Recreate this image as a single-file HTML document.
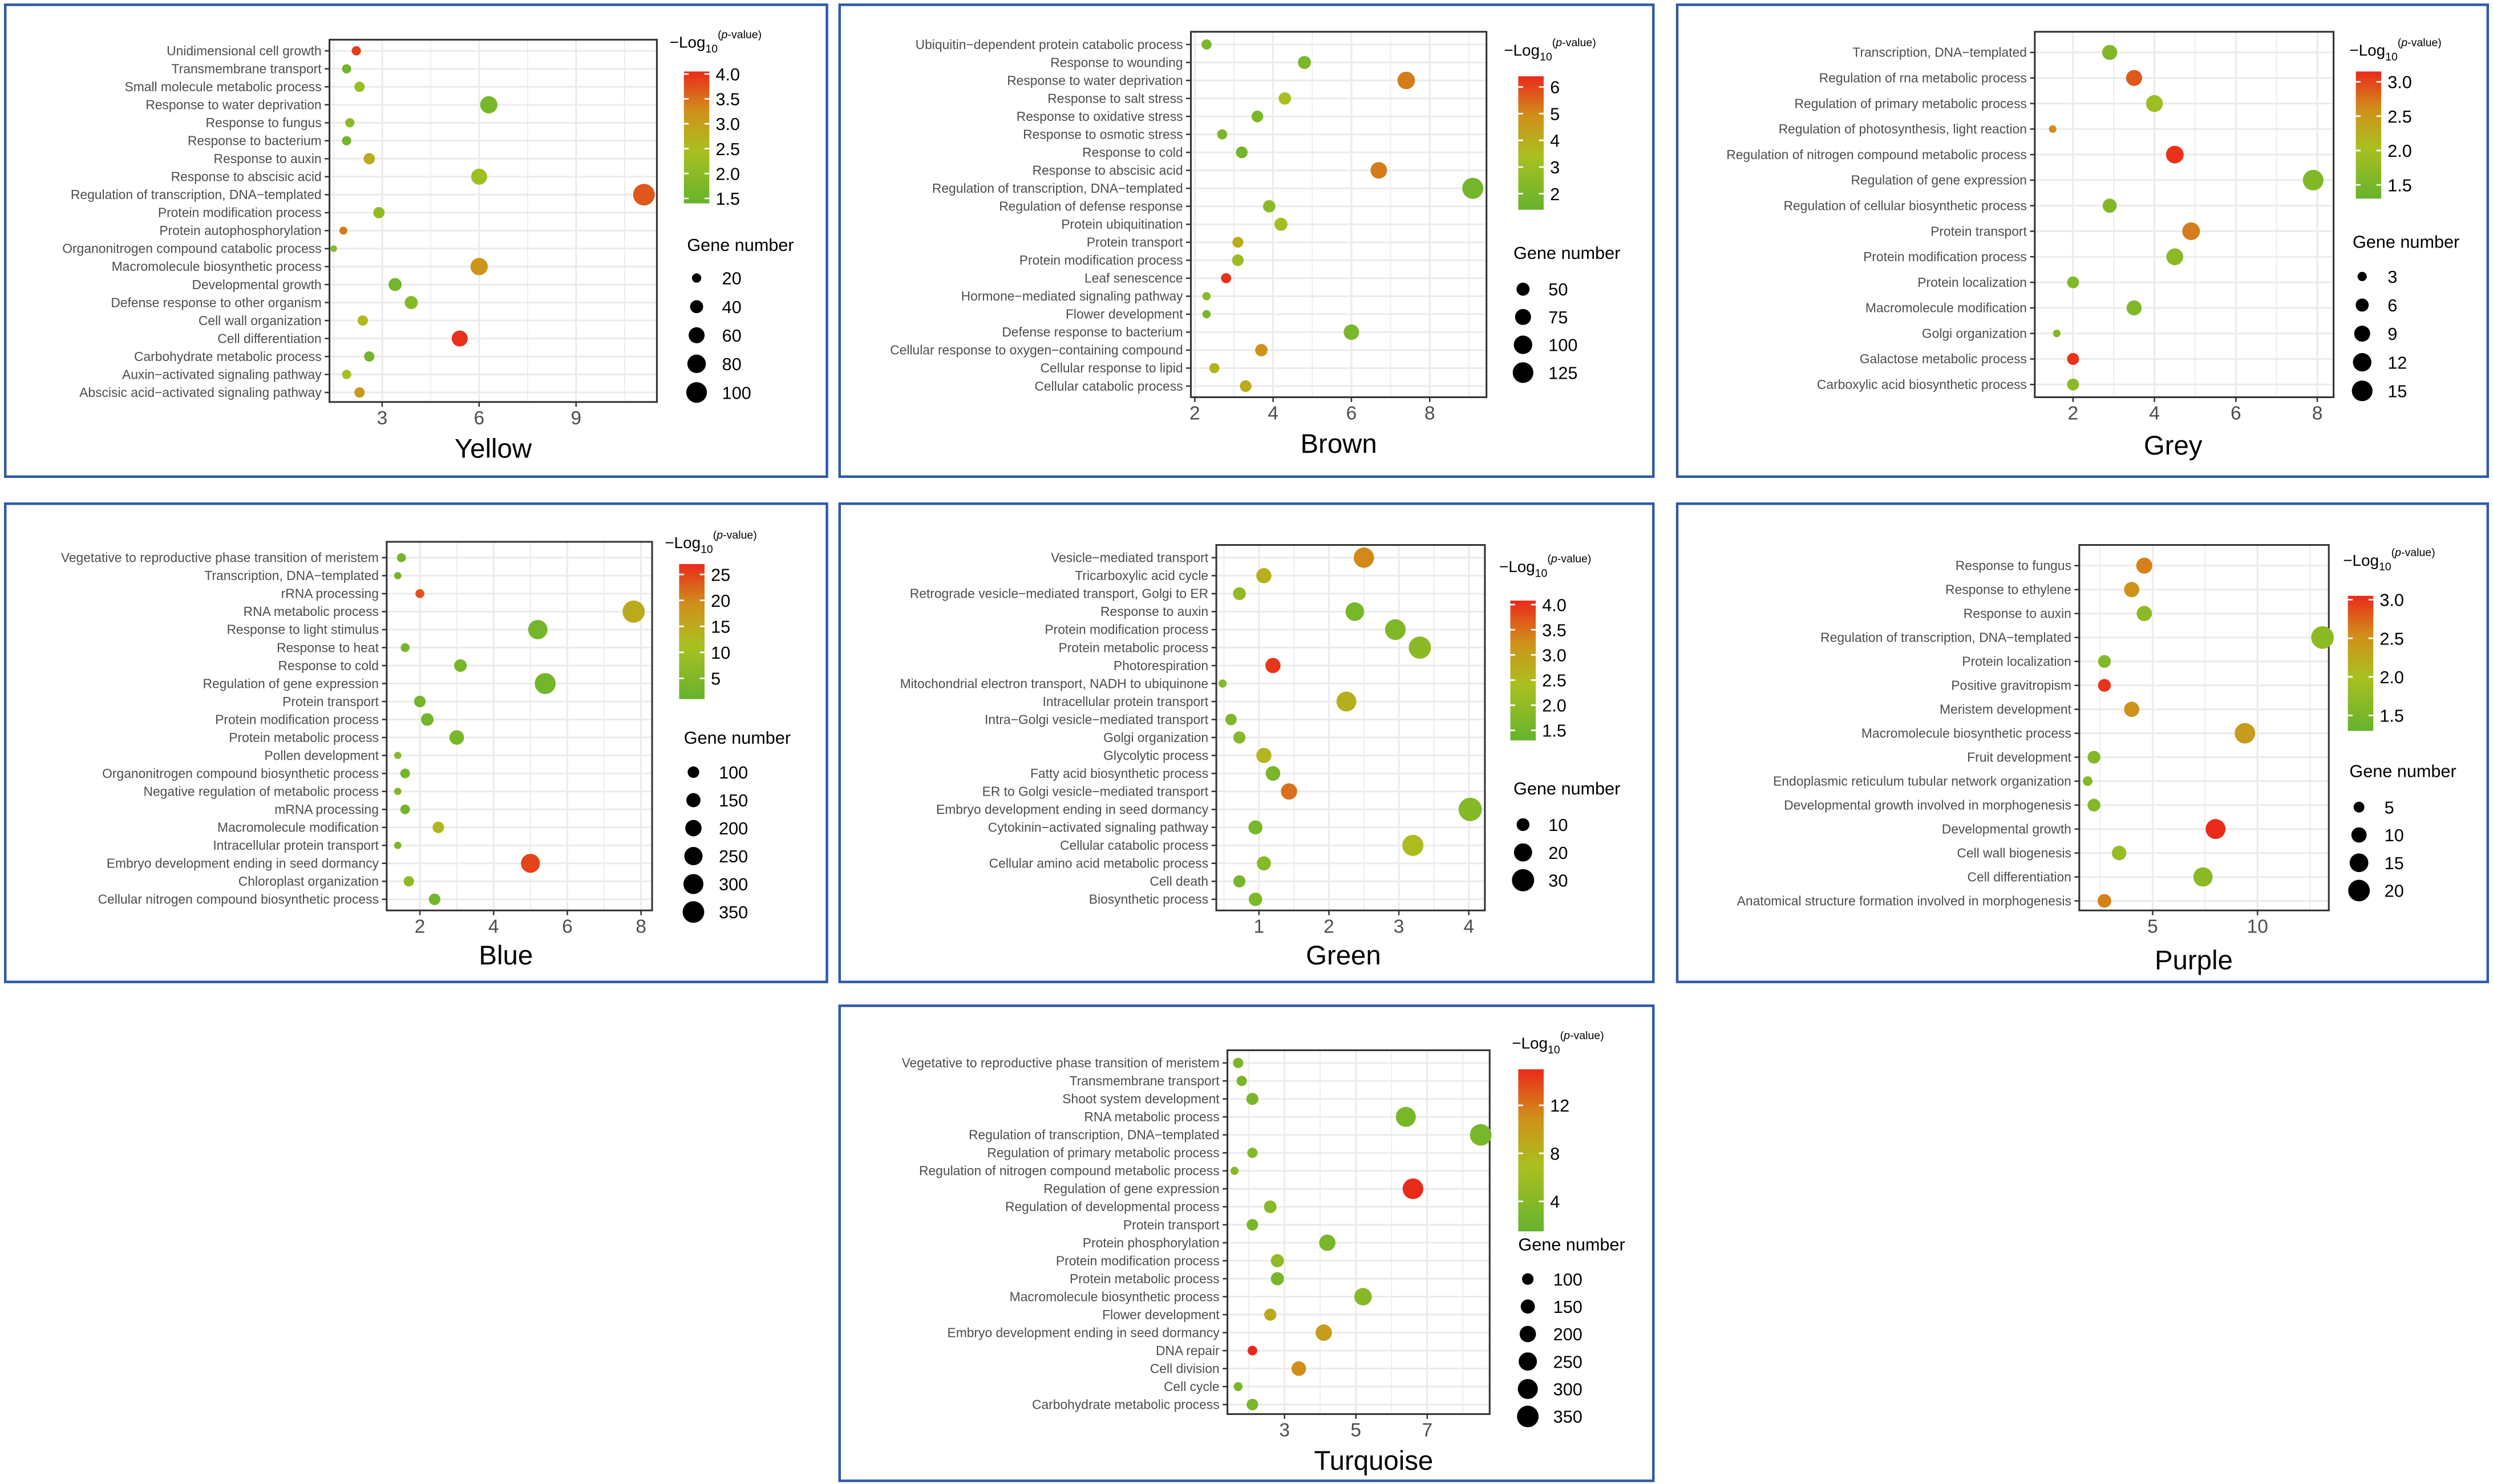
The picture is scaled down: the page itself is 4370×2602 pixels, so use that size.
<!DOCTYPE html>
<html><head><meta charset="utf-8"><style>
html,body{margin:0;padding:0;background:#fff;}
svg{display:block;}
text{font-family:"Liberation Sans Narrow","Liberation Sans",sans-serif;}
</style></head><body>
<svg id="fig" width="4370" height="2602" viewBox="0 0 1568 934" xmlns="http://www.w3.org/2000/svg">
<defs>
<linearGradient id="cgrad" x1="0" y1="1" x2="0" y2="0">
<stop offset="0" stop-color="#66b32e"/><stop offset="0.4" stop-color="#a9c01f"/><stop offset="0.7" stop-color="#d0901a"/><stop offset="1" stop-color="#ea2a1a"/>
</linearGradient>
</defs>
</svg>
<script>
// ---- Yellow ----
const yellowTerms=["Unidimensional cell growth","Transmembrane transport","Small molecule metabolic process","Response to water deprivation","Response to fungus","Response to bacterium","Response to auxin","Response to abscisic acid","Regulation of transcription, DNA\u2212templated","Protein modification process","Protein autophosphorylation","Organonitrogen compound catabolic process","Macromolecule biosynthetic process","Developmental growth","Defense response to other organism","Cell wall organization","Cell differentiation","Carbohydrate metabolic process","Auxin\u2212activated signaling pathway","Abscisic acid\u2212activated signaling pathway"];
const yellowX=[2.2,1.9,2.3,6.3,2.0,1.9,2.6,6.0,11.1,2.9,1.8,1.5,6.0,3.4,3.9,2.4,5.4,2.6,1.9,2.3];
const yellowP=[3.9,1.6,2.2,1.7,2.0,1.6,2.8,2.3,3.7,2.1,3.4,1.8,3.2,1.6,1.9,2.6,4.0,1.6,2.4,3.1];
const yellowN=[20,20,25,70,20,20,30,60,110,30,15,10,70,40,40,25,60,25,20,25];
const yellowTicks=[3,6,9];
const yellowCTicks=[4.0,3.5,3.0,2.5,2.0,1.5];
const yellowSizeTicks=[20,40,60,80,100];
// ---- Brown ----
const brownTerms=["Ubiquitin\u2212dependent protein catabolic process","Response to wounding","Response to water deprivation","Response to salt stress","Response to oxidative stress","Response to osmotic stress","Response to cold","Response to abscisic acid","Regulation of transcription, DNA\u2212templated","Regulation of defense response","Protein ubiquitination","Protein transport","Protein modification process","Leaf senescence","Hormone\u2212mediated signaling pathway","Flower development","Defense response to bacterium","Cellular response to oxygen\u2212containing compound","Cellular response to lipid","Cellular catabolic process"];
const brownX=[2.3,4.8,7.4,4.3,3.6,2.7,3.2,6.7,9.1,3.9,4.2,3.1,3.1,2.8,2.3,2.3,6.0,3.7,2.5,3.3];
const brownP=[2.0,2.0,5.2,3.5,2.0,2.0,1.8,5.2,1.8,2.5,3.2,4.0,3.0,6.3,2.5,2.0,2.0,4.8,3.8,4.0];
const brownN=[30,50,90,45,40,30,40,80,130,45,50,35,40,30,20,20,70,45,30,40];
const brownTicks=[2,4,6,8];
const brownCTicks=[6,5,4,3,2];
const brownSizeTicks=[50,75,100,125];
// ---- Grey ----
const greyTerms=["Transcription, DNA\u2212templated","Regulation of rna metabolic process","Regulation of primary metabolic process","Regulation of photosynthesis, light reaction","Regulation of nitrogen compound metabolic process","Regulation of gene expression","Regulation of cellular biosynthetic process","Protein transport","Protein modification process","Protein localization","Macromolecule modification","Golgi organization","Galactose metabolic process","Carboxylic acid biosynthetic process"];
const greyX=[2.9,3.5,4.0,1.5,4.5,7.9,2.9,4.9,4.5,2.0,3.5,1.6,2.0,2.0];
const greyP=[1.6,2.9,1.9,2.6,3.1,1.6,1.6,2.7,1.7,1.6,1.6,1.6,3.1,1.7];
const greyN=[8,9,10,2,11,15,7,11,10,5,8,2,5,5];
const greyTicks=[2,4,6,8];
const greyCTicks=[3.0,2.5,2.0,1.5];
const greySizeTicks=[3,6,9,12,15];
// ---- Blue ----
const blueTerms=["Vegetative to reproductive phase transition of meristem","Transcription, DNA\u2212templated","rRNA processing","RNA metabolic process","Response to light stimulus","Response to heat","Response to cold","Regulation of gene expression","Protein transport","Protein modification process","Protein metabolic process","Pollen development","Organonitrogen compound biosynthetic process","Negative regulation of metabolic process","mRNA processing","Macromolecule modification","Intracellular protein transport","Embryo development ending in seed dormancy","Chloroplast organization","Cellular nitrogen compound biosynthetic process"];
const blueX=[1.5,1.4,2.0,7.8,5.2,1.6,3.1,5.4,2.0,2.2,3.0,1.4,1.6,1.4,1.6,2.5,1.4,5.0,1.7,2.4];
const blueP=[3,3,24,15,3,3,4,3,3,3,4,6,3,5,3,13,4,25,7,3];
const blueN=[60,40,60,370,280,60,120,330,100,120,160,40,70,40,70,100,40,270,80,100];
const blueTicks=[2,4,6,8];
const blueCTicks=[25,20,15,10,5];
const blueSizeTicks=[100,150,200,250,300,350];
// ---- Green ----
const greenTerms=["Vesicle\u2212mediated transport","Tricarboxylic acid cycle","Retrograde vesicle\u2212mediated transport, Golgi to ER","Response to auxin","Protein modification process","Protein metabolic process","Photorespiration","Mitochondrial electron transport, NADH to ubiquinone","Intracellular protein transport","Intra\u2212Golgi vesicle\u2212mediated transport","Golgi organization","Glycolytic process","Fatty acid biosynthetic process","ER to Golgi vesicle\u2212mediated transport","Embryo development ending in seed dormancy","Cytokinin\u2212activated signaling pathway","Cellular catabolic process","Cellular amino acid metabolic process","Cell death","Biosynthetic process"];
const greenX=[2.5,1.07,0.72,2.37,2.95,3.3,1.2,0.48,2.25,0.6,0.72,1.07,1.2,1.43,4.02,0.95,3.2,1.07,0.72,0.95];
const greenP=[3.3,2.7,2.0,1.6,1.7,1.9,4.0,1.8,2.7,1.7,1.8,2.6,1.6,3.5,1.8,1.6,2.5,1.8,1.6,1.7];
const greenN=[25,14,10,21,26,30,14,4,24,8,9,14,13,16,33,12,27,12,9,11];
const greenTicks=[1,2,3,4];
const greenCTicks=[4.0,3.5,3.0,2.5,2.0,1.5];
const greenSizeTicks=[10,20,30];
// ---- Purple ----
const purpleTerms=["Response to fungus","Response to ethylene","Response to auxin","Regulation of transcription, DNA\u2212templated","Protein localization","Positive gravitropism","Meristem development","Macromolecule biosynthetic process","Fruit development","Endoplasmic reticulum tubular network organization","Developmental growth involved in morphogenesis","Developmental growth","Cell wall biogenesis","Cell differentiation","Anatomical structure formation involved in morphogenesis"];
const purpleX=[4.6,4.0,4.6,13.1,2.7,2.7,4.0,9.4,2.2,1.9,2.2,8.0,3.4,7.4,2.7];
const purpleP=[2.6,2.5,1.7,1.7,1.6,3.0,2.5,2.4,1.6,1.6,1.6,3.1,1.8,1.7,2.6];
const purpleN=[11,10,10,22,7,7,10,18,7,4,7,17,9,16,8];
const purpleTicks=[5,10];
const purpleCTicks=[3.0,2.5,2.0,1.5];
const purpleSizeTicks=[5,10,15,20];
// ---- Turquoise ----
const turqTerms=["Vegetative to reproductive phase transition of meristem","Transmembrane transport","Shoot system development","RNA metabolic process","Regulation of transcription, DNA\u2212templated","Regulation of primary metabolic process","Regulation of nitrogen compound metabolic process","Regulation of gene expression","Regulation of developmental process","Protein transport","Protein phosphorylation","Protein modification process","Protein metabolic process","Macromolecule biosynthetic process","Flower development","Embryo development ending in seed dormancy","DNA repair","Cell division","Cell cycle","Carbohydrate metabolic process"];
const turqX=[1.7,1.8,2.1,6.4,8.5,2.1,1.6,6.6,2.6,2.1,4.2,2.8,2.8,5.2,2.6,4.1,2.1,3.4,1.7,2.1];
const turqP=[3,3,3,3,3,4,4,15,4,3,3,5,3,4,9,10,15,11,3,3];
const turqN=[80,80,110,300,350,80,50,320,120,100,200,130,130,230,110,200,70,160,60,100];
const turqTicks=[3,5,7];
const turqCTicks=[12,8,4];
const turqSizeTicks=[100,150,200,250,300,350];

const panels=[
 {name:"Yellow",terms:yellowTerms,x:yellowX,p:yellowP,n:yellowN,ticks:yellowTicks,cticks:yellowCTicks,sticks:yellowSizeTicks,
  box:[3,3,517,297],plot:[207,25,413,253],xd:[1.37,11.5],rows:[32,247],cd:[1.4,4.05],cbar:[430,45,128],lt:[421,30],gn:[432,158],sy0:175,sdy:18,rmax:6.5,title:[310,288]},
 {name:"Brown",terms:brownTerms,x:brownX,p:brownP,n:brownN,ticks:brownTicks,cticks:brownCTicks,sticks:brownSizeTicks,
  box:[528,3,512,297],plot:[749,20,935,250],xd:[1.9,9.45],rows:[28,243],cd:[1.4,6.4],cbar:[955,48,132],lt:[946,35],gn:[952,163],sy0:182,sdy:17.5,rmax:6.5,title:[842,285]},
 {name:"Grey",terms:greyTerms,x:greyX,p:greyP,n:greyN,ticks:greyTicks,cticks:greyCTicks,sticks:greySizeTicks,
  box:[1055,3,510,297],plot:[1280,20,1468,250],xd:[1.06,8.4],rows:[33,242],cd:[1.3,3.15],cbar:[1482,45,125],lt:[1478,35],gn:[1480,156],sy0:174,sdy:18,rmax:6.5,title:[1367,286]},
 {name:"Blue",terms:blueTerms,x:blueX,p:blueP,n:blueN,ticks:blueTicks,cticks:blueCTicks,sticks:blueSizeTicks,
  box:[3,317,517,301],plot:[243,341,410,573],xd:[1.1,8.3],rows:[351,566],cd:[1,27],cbar:[427,355,440],lt:[418,345],gn:[430,468],sy0:486,sdy:17.6,rmax:6.8,title:[318,607]},
 {name:"Green",terms:greenTerms,x:greenX,p:greenP,n:greenN,ticks:greenTicks,cticks:greenCTicks,sticks:greenSizeTicks,
  box:[528,317,512,301],plot:[765,343,934,573],xd:[0.39,4.23],rows:[351,566],cd:[1.3,4.08],cbar:[950,378,466],lt:[943,360],gn:[952,500],sy0:519,sdy:17.5,rmax:7,title:[845,607]},
 {name:"Purple",terms:purpleTerms,x:purpleX,p:purpleP,n:purpleN,ticks:purpleTicks,cticks:purpleCTicks,sticks:purpleSizeTicks,
  box:[1055,317,510,301],plot:[1308,343,1465,573],xd:[1.5,13.4],rows:[356,567],cd:[1.3,3.05],cbar:[1477,375,460],lt:[1474,356],gn:[1478,489],sy0:508,sdy:17.5,rmax:6.8,title:[1380,610]},
 {name:"Turquoise",terms:turqTerms,x:turqX,p:turqP,n:turqN,ticks:turqTicks,cticks:turqCTicks,sticks:turqSizeTicks,
  box:[528,633,512,299],plot:[772,661,937,890],xd:[1.4,8.75],rows:[669,884],cd:[1.5,15],cbar:[955,673,775],lt:[951,660],gn:[955,787],sy0:805,sdy:17.3,rmax:6.8,title:[864,925]}
];
const NS="http://www.w3.org/2000/svg";
const svg=document.getElementById('fig');
function mk(tag,attrs,parent,txt){const e=document.createElementNS(NS,tag);for(const k in attrs)e.setAttribute(k,attrs[k]);if(txt!==undefined)e.textContent=txt;parent.appendChild(e);return e;}
const stops=[[0,[102,179,46]],[0.4,[169,192,31]],[0.7,[208,144,26]],[1,[234,42,26]]];
function colorAt(t){t=Math.max(0,Math.min(1,t));for(let i=1;i<stops.length;i++){if(t<=stops[i][0]){const a=stops[i-1],b=stops[i];const f=(t-a[0])/(b[0]-a[0]);const c=a[1].map((v,j)=>Math.round(v+(b[1][j]-v)*f));return `rgb(${c[0]},${c[1]},${c[2]})`;}}return 'rgb(234,42,26)';}
panels.forEach(P=>{
 const key=P.name.toLowerCase();
 const g=mk('g',{},svg);
 
 
 const bx=mk('rect',{x:P.box[0],y:P.box[1],width:P.box[2],height:P.box[3],fill:'#fff',stroke:'#2f5aa8','stroke-width':1.6},g);
 
 
 const [x0,y0,x1,y1]=P.plot;
 const sx=v=>x0+(v-P.xd[0])/(P.xd[1]-P.xd[0])*(x1-x0);
 const nr=P.terms.length;
 const sy=i=>P.rows[0]+i*(P.rows[1]-P.rows[0])/(nr-1);
 const cs=v=>colorAt((v-P.cd[0])/(P.cd[1]-P.cd[0]));
 const nmax=P.sticks[P.sticks.length-1];
 const rs=v=>P.rmax*Math.sqrt(v/nmax);
 const step=P.ticks.length>1?P.ticks[1]-P.ticks[0]:1;
 for(let v=P.ticks[0]-step*3;v<=P.xd[1]+step;v+=step/2){if(v<P.xd[0]||v>P.xd[1])continue;const X=sx(v);const major=Math.abs((v-P.ticks[0])/step-Math.round((v-P.ticks[0])/step))<1e-6;
  const l=mk('line',{x1:X,x2:X,y1:y0,y2:y1,stroke:'#ebebeb','stroke-width':major?1.1:0.6},g);
  
  }
 P.terms.forEach((t,i)=>{const Y=sy(i);
  const l=mk('line',{x1:x0,x2:x1,y1:Y,y2:Y,stroke:'#ebebeb','stroke-width':1.1},g);
  
  
  const tk=mk('line',{x1:x0-3,x2:x0,y1:Y,y2:Y,stroke:'#333','stroke-width':0.9},g);
  
  
  const lb=mk('text',{x:x0-5,y:Y+2.8,'text-anchor':'end','font-size':8.2,fill:'#4d4d4d'},g,t);
  
  
 });
 const fr=mk('rect',{x:x0,y:y0,width:x1-x0,height:y1-y0,fill:'none',stroke:'#333','stroke-width':1.1},g);
 
 
 P.ticks.forEach(v=>{const X=sx(v);
  const tk=mk('line',{x1:X,x2:X,y1:y1,y2:y1+3,stroke:'#333','stroke-width':0.9},g);
  
  
  const tl=mk('text',{x:X,y:y1+14,'text-anchor':'middle','font-size':12,fill:'#4d4d4d'},g,String(v));
  
  
 });
 P.terms.forEach((t,i)=>{
  const c=mk('circle',{cx:sx(P.x[i]),cy:sy(i),r:rs(P.n[i]),fill:cs(P.p[i])},g);
  
  
 });
 const tt=mk('text',{x:P.title[0],y:P.title[1],'text-anchor':'middle','font-size':17,fill:'#000'},g,P.name);
 
 
 const lt=mk('text',{x:P.lt[0],y:P.lt[1],'font-size':10,fill:'#000'},g);
 
 
 mk('tspan',{},lt,'\u2212Log');
 mk('tspan',{dy:3,'font-size':7},lt,'10');
 mk('tspan',{dy:-9,'font-size':7},lt,'(');
 mk('tspan',{'font-size':7,'font-style':'italic'},lt,'p');
 mk('tspan',{'font-size':7},lt,'-value)');
 const [cx,cy0,cy1]=P.cbar;
 const cb=mk('rect',{x:cx,y:cy0,width:16,height:cy1-cy0,fill:'url(#cgrad)'},g);
 
 
 const cyS=v=>cy1-(v-P.cd[0])/(P.cd[1]-P.cd[0])*(cy1-cy0);
 P.cticks.forEach(v=>{const Y=cyS(v);
  mk('line',{x1:cx,x2:cx+3,y1:Y,y2:Y,stroke:'#fff','stroke-width':1},g);
  mk('line',{x1:cx+13,x2:cx+16,y1:Y,y2:Y,stroke:'#fff','stroke-width':1},g);
  const tl=mk('text',{x:cx+20,y:Y+4,'font-size':11,fill:'#000'},g,(P.cticks.some(z=>z%1!==0)?v.toFixed(1):String(v)));
  
  
 });
 const gn=mk('text',{x:P.gn[0],y:P.gn[1],'font-size':11,fill:'#000'},g,'Gene number');
 
 
 P.sticks.forEach((v,i)=>{const Y=P.sy0+i*P.sdy;
  const c=mk('circle',{cx:P.gn[0]+6,cy:Y,r:rs(v),fill:'#000'},g);
  
  
  const tl=mk('text',{x:P.gn[0]+22,y:Y+4,'font-size':11,fill:'#000'},g,String(v));
  
  
 });
});
</script>
</body></html>
